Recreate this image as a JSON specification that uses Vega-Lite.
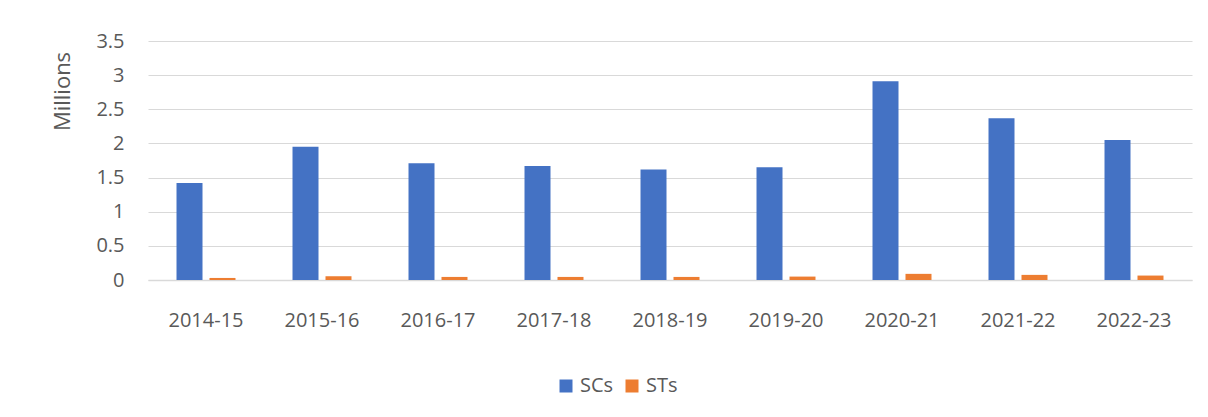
{
  "$schema": "https://vega.github.io/schema/vega-lite/v6.json",
  "width": 1044,
  "height": 239,
  "autosize": {"type": "none"},
  "padding": {"left": 148, "top": 41, "right": 16, "bottom": 137},
  "background": "white",
  "data": {
    "values": [
      {"year": "2014-15", "group": "SCs", "value": 1.42},
      {"year": "2014-15", "group": "STs", "value": 0.03},
      {"year": "2015-16", "group": "SCs", "value": 1.95},
      {"year": "2015-16", "group": "STs", "value": 0.055},
      {"year": "2016-17", "group": "SCs", "value": 1.71},
      {"year": "2016-17", "group": "STs", "value": 0.045},
      {"year": "2017-18", "group": "SCs", "value": 1.67},
      {"year": "2017-18", "group": "STs", "value": 0.045},
      {"year": "2018-19", "group": "SCs", "value": 1.62},
      {"year": "2018-19", "group": "STs", "value": 0.045},
      {"year": "2019-20", "group": "SCs", "value": 1.65},
      {"year": "2019-20", "group": "STs", "value": 0.05},
      {"year": "2020-21", "group": "SCs", "value": 2.91},
      {"year": "2020-21", "group": "STs", "value": 0.09},
      {"year": "2021-22", "group": "SCs", "value": 2.37},
      {"year": "2021-22", "group": "STs", "value": 0.075},
      {"year": "2022-23", "group": "SCs", "value": 2.05},
      {"year": "2022-23", "group": "STs", "value": 0.065}
    ]
  },
  "mark": {"type": "bar"},
  "encoding": {
    "x": {
      "field": "year",
      "type": "nominal",
      "scale": {"paddingInner": 0, "paddingOuter": 0},
      "axis": {
        "title": null,
        "labelAngle": 0,
        "ticks": false,
        "domain": true,
        "domainColor": "#d9d9d9",
        "domainWidth": 1.5,
        "labelPadding": 30,
        "labelFont": "Open Sans",
        "labelFontSize": 20,
        "labelColor": "#595959",
        "grid": false
      }
    },
    "xOffset": {
      "field": "group",
      "type": "nominal",
      "scale": {"paddingInner": 0.212, "paddingOuter": 0.864}
    },
    "y": {
      "field": "value",
      "type": "quantitative",
      "scale": {"domain": [0, 3.5], "nice": false},
      "axis": {
        "title": "Millions",
        "titleFont": "Open Sans",
        "titleFontSize": 22,
        "titleFontWeight": "normal",
        "titleColor": "#595959",
        "titleAngle": -90,
        "titleX": -86,
        "titleY": 50,
        "titleAlign": "center",
        "titleBaseline": "middle",
        "values": [0, 0.5, 1, 1.5, 2, 2.5, 3, 3.5],
        "format": "~g",
        "ticks": false,
        "domain": false,
        "labelPadding": 24,
        "labelFont": "Open Sans",
        "labelFontSize": 20,
        "labelColor": "#595959",
        "gridColor": "#d9d9d9",
        "gridWidth": 1
      }
    },
    "color": {
      "field": "group",
      "type": "nominal",
      "scale": {"domain": ["SCs", "STs"], "range": ["#4472C4", "#ED7D31"]},
      "legend": {
        "title": null,
        "orient": "none",
        "direction": "horizontal",
        "legendX": 408,
        "legendY": 335,
        "symbolType": "square",
        "symbolSize": 169,
        "symbolStrokeWidth": 0,
        "labelFont": "Open Sans",
        "labelFontSize": 20,
        "labelColor": "#595959",
        "columnPadding": 8,
        "labelOffset": 4
      }
    }
  },
  "config": {"view": {"stroke": null}}
}
